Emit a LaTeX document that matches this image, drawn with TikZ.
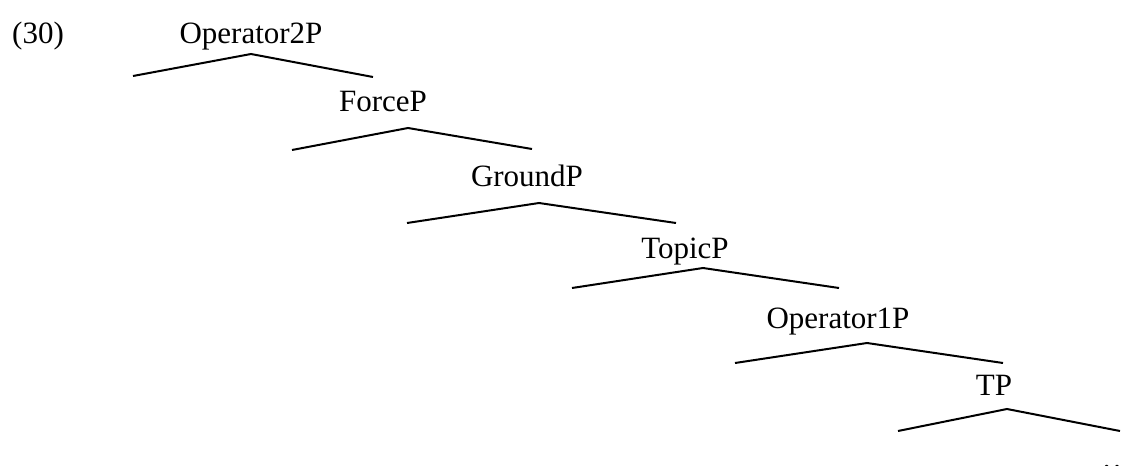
\documentclass[tikz,border=0pt]{standalone}
\usepackage{fontspec}
\setmainfont{Liberation Serif}
\begin{document}
\begin{tikzpicture}[x=1pt,y=-1pt,
  lab/.style={anchor=base,inner sep=0pt,font=\fontsize{31}{36}\selectfont},
  branch/.style={line width=2pt,line join=miter}]
\useasboundingbox (0,0) rectangle (1125,466);
\node[lab,anchor=base west] (ex) at (12,43) {(30)};
% labels
\node[lab] (n1) at (251,43) {Operator2P};
\node[lab] (n2) at (383,111) {ForceP};
\node[lab] (n3) at (527,186) {GroundP};
\node[lab] (n4) at (685,258) {TopicP};
\node[lab] (n5) at (838,328) {Operator1P};
\node[lab] (n6) at (994,395) {TP};
\node[lab] (dots) at (1117,468) {\char"2026};
% apex and leaf ends
\coordinate (a1) at (251,54);  \coordinate (l1) at (133,76);  \coordinate (r1) at (373,77);
\coordinate (a2) at (408,128); \coordinate (l2) at (292,150); \coordinate (r2) at (532,149);
\coordinate (a3) at (539,203); \coordinate (l3) at (407,223); \coordinate (r3) at (676,223);
\coordinate (a4) at (703,268); \coordinate (l4) at (572,288); \coordinate (r4) at (839,288);
\coordinate (a5) at (867,343); \coordinate (l5) at (735,363); \coordinate (r5) at (1003,363);
\coordinate (a6) at (1007,409); \coordinate (l6) at (898,431); \coordinate (r6) at (1120,431);
\foreach \i in {1,...,6}{
  \draw[branch] (l\i) -- (a\i) -- (r\i);
}
\end{tikzpicture}
\end{document}
